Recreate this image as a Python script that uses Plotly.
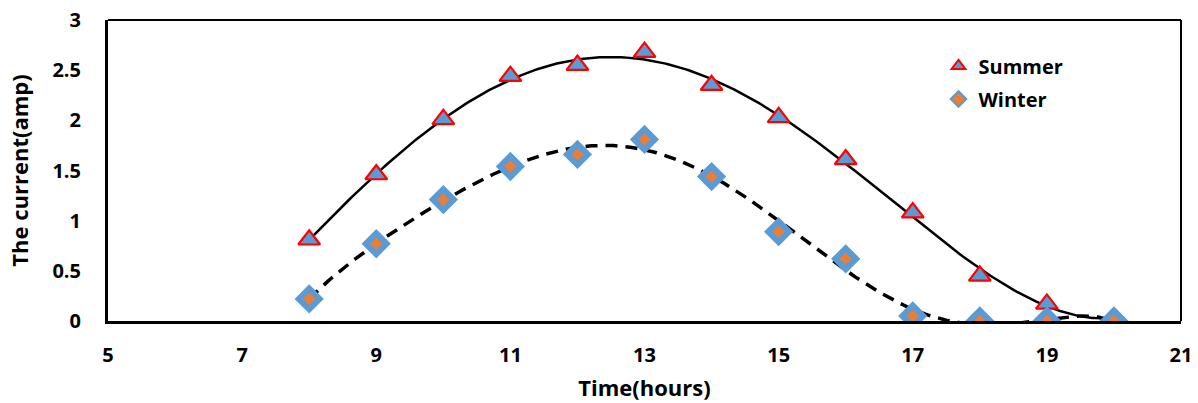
import numpy as np
import plotly.graph_objects as go

hours = [8, 9, 10, 11, 12, 13, 14, 15, 16, 17, 18, 19, 20]
summer = [0.81, 1.46, 2.01, 2.44, 2.55, 2.68, 2.35, 2.03, 1.61, 1.08, 0.45, 0.17, 0.03]
winter = [0.22, 0.77, 1.21, 1.54, 1.66, 1.81, 1.44, 0.89, 0.62, 0.05, 0.0, 0.0, 0.0]
x_ticks = [5, 7, 9, 11, 13, 15, 17, 19, 21]
y_ticks = [0, 0.5, 1, 1.5, 2, 2.5, 3]

FONT = "Open Sans"
BLUE = "#5B9BD5"
ORANGE = "#ED7D31"

xs = np.linspace(min(hours), max(hours), 300)
fit_s = np.polyval(np.polyfit(hours, summer, 4), xs)
fit_w = np.polyval(np.polyfit(hours, winter, 6), xs)

fig = go.Figure()
fig.add_trace(go.Scatter(x=xs, y=fit_s, mode="lines", line=dict(color="black", width=2.5),
                         showlegend=False, hoverinfo="skip"))
fig.add_trace(go.Scatter(x=xs, y=fit_w, mode="lines",
                         line=dict(color="black", width=3.5, dash="12px,8px"),
                         showlegend=False, hoverinfo="skip"))
fig.add_trace(go.Scatter(x=hours, y=summer, mode="markers", name="Summer", legendgroup="s",
                         marker=dict(symbol="triangle-up", size=19, color=BLUE,
                                     line=dict(color="#FF0000", width=2.2))))
fig.add_trace(go.Scatter(x=hours, y=winter, mode="markers", name="Winter", legendgroup="w",
                         marker=dict(symbol="diamond", size=16, color=ORANGE,
                                     line=dict(color=BLUE, width=6))))

fig.update_layout(
    width=1198, height=403,
    margin=dict(l=108, r=17, t=20, b=82),
    paper_bgcolor="white", plot_bgcolor="white",
    font=dict(family=FONT, color="black", size=20),
    legend=dict(x=0.774, y=0.912, xanchor="left", yanchor="top",
                font=dict(family=FONT, size=20, weight="bold"),
                bgcolor="rgba(0,0,0,0)", itemsizing="constant", tracegroupgap=4,
                itemwidth=30),
    xaxis=dict(range=[5, 21], tickvals=x_ticks, showgrid=False, zeroline=False,
               showline=True, linecolor="black", linewidth=3, ticks="", automargin=False,
               tickfont=dict(family=FONT, size=20, weight="bold"), ticklabelstandoff=14,
               title=dict(text="Time(hours)", font=dict(family=FONT, size=22, weight="bold"),
                          standoff=14)),
    yaxis=dict(range=[0, 3], tickvals=y_ticks, showgrid=False, zeroline=False,
               showline=True, linecolor="black", linewidth=3, ticks="", automargin=False,
               tickfont=dict(family=FONT, size=20, weight="bold"), ticklabelstandoff=20,
               title=dict(text="The current(amp)", font=dict(family=FONT, size=22, weight="bold"),
                          standoff=18)),
    shapes=[
        dict(type="line", xref="paper", yref="paper", x0=0, x1=1, y0=1, y1=1,
             line=dict(color="black", width=2)),
        dict(type="line", xref="paper", yref="paper", x0=1, x1=1, y0=0, y1=1,
             line=dict(color="black", width=2)),
    ],
)

fig.write_html("out.html")
